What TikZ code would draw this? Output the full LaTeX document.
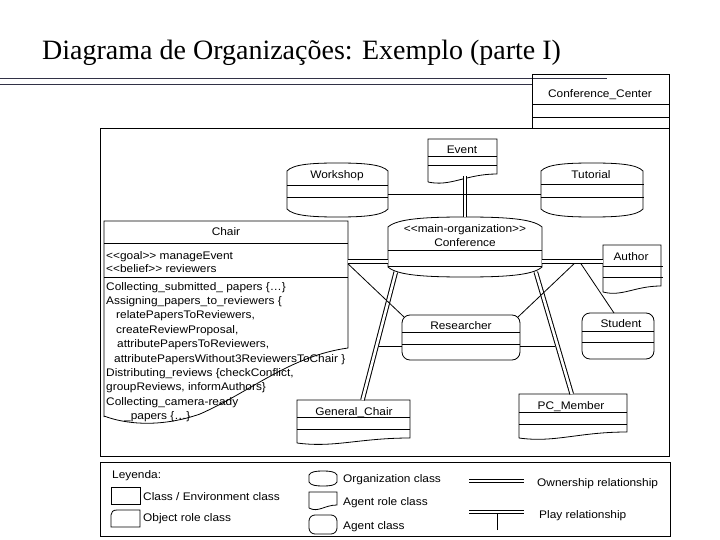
\documentclass[tikz,border=0pt]{standalone}
\usepackage{fontspec}
\newfontfamily\sansf[FakeStretch=1.08]{Liberation Sans}
\newfontfamily\seriff{Liberation Serif}
\usetikzlibrary{fit}
\newcommand{\LL}{<\kern0pt<}
\newcommand{\GG}{>\kern0pt>}
% organization class (barrel): x1 y1 x2 y2 bulge
\newcommand{\barrel}[5]{%
  \draw[ln] (#1,#2+#5) .. controls ({#1+0.06*(#3-#1)},{#2+0.15*#5}) and ({#1+0.25*(#3-#1)},#2) .. ({(#1+#3)/2},#2)
    .. controls ({#3-0.25*(#3-#1)},#2) and ({#3-0.06*(#3-#1)},{#2+0.15*#5}) .. (#3,#2+#5)
    -- (#3,#4-#5) .. controls ({#3-0.06*(#3-#1)},{#4-0.15*#5}) and ({#3-0.25*(#3-#1)},#4) .. ({(#1+#3)/2},#4)
    .. controls ({#1+0.25*(#3-#1)},#4) and ({#1+0.06*(#3-#1)},{#4-0.15*#5}) .. (#1,#4-#5) -- cycle;}
% agent role class (wavy bottom): x1 y1 x2 yleft yright
\newcommand{\agentrole}[5]{%
  \draw[ln] (#1,#4) -- (#1,#2) -- (#3,#2) -- (#3,#5)
    .. controls ({#1+0.55*(#3-#1)},#5) and ({#1+0.33*(#3-#1)},{#4+5}) .. (#1,#4);}
% separator line: x1 x2 y
\newcommand{\sepl}[3]{\draw[ln] (#1,#3) -- (#2,#3);}
\begin{document}
\begin{tikzpicture}[x=1pt,y=-1pt,
  ln/.style={draw=black, line width=0.8pt},
  own/.style={draw=black, line width=1pt, double=white, double distance=2.6pt},
  area/.style={inner sep=0pt, outer sep=0pt},
  lbl/.style={font=\sansf\fontsize{11}{13}\selectfont, inner sep=0pt, anchor=base},
  lbll/.style={lbl, anchor=base west},
  ttl/.style={font=\seriff\fontsize{28}{32}\selectfont, inner sep=0pt, anchor=base west}]
\useasboundingbox (0,0) rectangle (720,540);
\fill[white] (0,0) rectangle (720,540);

% title
\node[ttl] (title) at (42,60) {Diagrama de Organizações: Exemplo (parte I)};
\draw[color={rgb,255:red,50;green,50;blue,70}, line width=0.9pt] (0,78) -- (607,78);
\draw[color={rgb,255:red,50;green,50;blue,70}, line width=0.9pt] (0,84) -- (532,84);

% Conference_Center
\node[area, fit={(532,74) (669,128)}] (center) {};
\draw[ln] (532,74) rectangle (669,128);
\sepl{532}{669}{104}\sepl{532}{669}{117}
\node[lbl] (center-t) at (600,97.5) {Conference\_Center};

% main frame
\draw[ln] (100,128) rectangle (669,456);

% Event
\node[area, fit={(428,139) (497,176)}] (event) {};
\agentrole{428}{139}{497}{182}{174}
\sepl{428}{497}{156}\sepl{428}{497}{165}
\node[lbl] (event-t) at (462,154) {Event};

% Workshop
\node[area, fit={(287,163) (388,217)}] (workshop) {};
\barrel{287}{163}{388}{217}{8}
\sepl{287}{388}{185}\sepl{287}{388}{197}
\node[lbl] (workshop-t) at (337,179) {Workshop};

% Tutorial
\node[area, fit={(541,163) (643,217)}] (tutorial) {};
\barrel{541}{163}{643}{217}{8}
\sepl{541}{644}{184}\sepl{541}{644}{197}
\node[lbl] (tutorial-t) at (591,179) {Tutorial};

% Conference
\node[area, fit={(388,217) (542,277)}] (conference) {};
\barrel{388}{217}{542}{277}{10}
\sepl{388}{542}{250}\sepl{388}{542}{266}
\node[lbl] (conference-s) at (465,232.5) {\LL main-organization\GG};
\node[lbl] (conference-t) at (465,247) {Conference};

% Chair
\node[area, fit={(104,221) (348,348)}] (chair) {};
\draw[ln] (104,417) -- (104,221) -- (348,221) -- (348,348)
  .. controls (290,356) and (250,392) .. (200,414)
  .. controls (160,428) and (125,424) .. (104,416);
\sepl{104}{348}{243}\sepl{104}{348}{277}
\node[lbl] (chair-t) at (226,236) {Chair};
\node[lbll] (ch-a1) at (106,259.5) {\LL goal\GG{} manageEvent};
\node[lbll] (ch-a2) at (106,272.8) {\LL belief\GG{} reviewers};
\node[lbll] (ch-m1) at (106,290) {Collecting\_submitted\_ papers \{…\}};
\node[lbll] (ch-m2) at (106,304.4) {Assigning\_papers\_to\_reviewers \{};
\node[lbll] (ch-m3) at (116,318.8) {relatePapersToReviewers,};
\node[lbll] (ch-m4) at (116,333.2) {createReviewProposal,};
\node[lbll] (ch-m5) at (117,347.6) {attributePapersToReviewers,};
\node[lbll] (ch-m6) at (114,362) {attributePapersWithout3ReviewersToChair \}};
\node[lbll] (ch-m7) at (106,376.4) {Distributing\_reviews \{checkConflict,};
\node[lbll] (ch-m8) at (106,390.8) {groupReviews, informAuthors\}};
\node[lbll] (ch-m9) at (106,405.2) {Collecting\_camera-ready};
\node[lbll] (ch-m10) at (124,419.6) {\_papers \{…\}};

% Author
\node[area, fit={(603,245) (661,286)}] (author) {};
\agentrole{603}{245}{661}{292}{286}
\sepl{603}{663}{266}\sepl{603}{663}{277}
\node[lbl] (author-t) at (631,260) {Author};

% Researcher
\node[area, fit={(402,315) (520,360)}] (researcher) {};
\draw[ln, rounded corners=8pt] (402,315) rectangle (520,360);
\sepl{402}{520}{332}\sepl{402}{520}{344}
\node[lbl] (researcher-t) at (461,329) {Researcher};

% Student
\node[area, fit={(582,313) (654,359)}] (student) {};
\draw[ln, rounded corners=8pt] (582,313) rectangle (654,359);
\sepl{582}{654}{331}\sepl{582}{654}{342}
\node[lbl] (student-t) at (621,327.5) {Student};

% General_Chair
\node[area, fit={(297,400) (410,438)}] (generalchair) {};
\agentrole{297}{400}{410}{443}{438}
\sepl{297}{410}{417}\sepl{297}{410}{429}
\node[lbl] (generalchair-t) at (354,415) {General\_Chair};

% PC_Member
\node[area, fit={(519,394) (627,432)}] (pcmember) {};
\agentrole{519}{394}{627}{438}{432}
\sepl{519}{627}{412}\sepl{519}{627}{424}
\node[lbl] (pcmember-t) at (571,409) {PC\_Member};

% ownership relationships
\coordinate (cc1) at ([yshift=-40.5]chair.north east);
\coordinate (cc2) at (cc1 -| conference.east);
\draw[own] (cc1) -- (cc1 -| conference.west);
\draw[own] (cc2) -- (cc2 -| author.west);
\draw[own] (event.south -| conference.north) -- (conference.north);
\coordinate (o1a) at ([xshift=7.8,yshift=5]conference.south west);
\coordinate (o1b) at ([xshift=65.5]generalchair.north west);
\coordinate (o2a) at ([xshift=-6.2,yshift=5]conference.south east);
\coordinate (o2b) at ([xshift=52.7]pcmember.north west);
\draw[own] (o1a) -- (o1b);
\draw[own] (o2a) -- (o2b);

% other relationships
\draw[ln] ([yshift=-4]workshop.east) -- ([yshift=-4]tutorial.west);
\path (o1a) -- (o1b) coordinate[pos=0.5804] (p1);
\path (o2a) -- (o2b) coordinate[pos=0.6066] (p2);
\draw[ln] ([xshift=2.2]p1) -- (p1 -| researcher.west);
\draw[ln] ([xshift=-2.2]p2) -- (p2 -| researcher.east);
\draw[ln] ([yshift=-2.3]cc1) -- ([xshift=2,yshift=-2]researcher.north west);
\draw[ln] ([xshift=32,yshift=-2.3]cc2) -- ([xshift=-2,yshift=-2]researcher.north east);
\draw[ln] ([xshift=39,yshift=-2.3]cc2) -- ([xshift=32]student.north west);

% legend
\draw[ln] (100,462) rectangle (670,536);
\node[lbll] (leg-title) at (112,478) {Leyenda:};
\node[area, fit={(111,487) (140,504)}] (leg-class) {};
\draw[ln] (111,487) rectangle (140,504);
\node[lbll] (leg-class-t) at (143,500) {Class / Environment class};
\node[area, fit={(111,510) (140,527)}] (leg-obj) {};
\draw[ln] (111,527) -- (111,515) .. controls (111,512) and (113,510) .. (117,510) -- (140,510) -- (140,527) -- cycle;
\node[lbll] (leg-obj-t) at (143,521.5) {Object role class};
\node[area, fit={(309,471) (337,486)}] (leg-org) {};
\barrel{309}{471}{337}{486}{4}
\node[lbll] (leg-org-t) at (343,482) {Organization class};
\node[area, fit={(309,492) (337,505)}] (leg-role) {};
\agentrole{309}{492}{337}{508}{505}
\node[lbll] (leg-role-t) at (343,505) {Agent role class};
\node[area, fit={(309,515) (337,534)}] (leg-agent) {};
\draw[ln, rounded corners=6pt] (309,515) rectangle (337,534);
\node[lbll] (leg-agent-t) at (343,529) {Agent class};
\coordinate (lo1) at (469,481);
\coordinate (lo2) at (524,481);
\draw[own] (lo1) -- (lo2);
\node[lbll] (leg-own-t) at (537,486) {Ownership relationship};
\coordinate (lp1) at (469,512);
\coordinate (lp2) at (524,512);
\coordinate (lp3) at (497,530);
\draw[ln] (lp3) -- (lp3 |- lp1);
\draw[own] (lp1) -- (lp2);
\node[lbll] (leg-play-t) at (539,518) {Play relationship};
\end{tikzpicture}
\end{document}
